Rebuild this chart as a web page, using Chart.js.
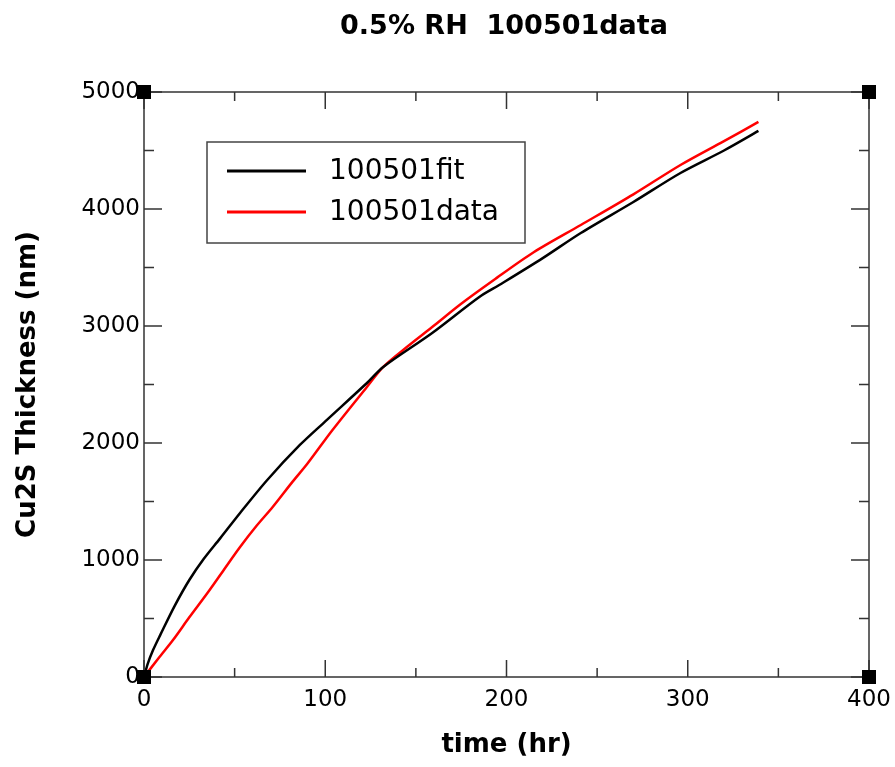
<!DOCTYPE html>
<html>
<head>
<meta charset="utf-8">
<script src="https://cdn.jsdelivr.net/npm/chart.js@4/dist/chart.umd.min.js"></script>
<style>
  body { margin: 0; background: #fff; }
  #wrap { width: 895px; height: 767px; }
</style>
</head>
<body>
<div id="wrap"><canvas id="chart" width="895" height="767"></canvas></div>
<script>
// values
var chartTitle = '0.5% RH  100501data';
var xTitle = 'time (hr)';
var yTitle = 'Cu2S Thickness (nm)';

var fitLabel = '100501fit';
var fitTime = [0, 2, 5, 9, 17, 25, 33, 42, 53, 68, 86, 100, 123, 132, 159, 185, 196, 220, 241, 270, 296, 320, 339];
var fitThickness = [0, 110, 230, 360, 610, 829, 1010, 1185, 1402, 1684, 1983, 2185, 2513, 2650, 2940, 3248, 3350, 3580, 3795, 4060, 4308, 4500, 4667];

var dataLabel = '100501data';
var dataTime = [0, 8, 16, 25, 35, 44, 53, 62, 71, 82, 90, 104, 123, 132, 145, 159, 175, 193, 215, 241, 270, 296, 320, 339];
var dataThickness = [0, 160, 316, 510, 718, 915, 1111, 1290, 1453, 1670, 1820, 2111, 2479, 2650, 2820, 2991, 3190, 3393, 3630, 3863, 4125, 4376, 4580, 4744];

var xTicks = [0, 100, 200, 300, 400];
var yTicks = [0, 1000, 2000, 3000, 4000, 5000];
var xMinorStep = 50;
var yMinorStep = 500;

function pairs(xs, ys) {
    var out = [];
    for (var i = 0; i < xs.length; i++) out.push({x: xs[i], y: ys[i]});
    return out;
}

// frame, inward ticks, corner squares, title and boxed legend
var decor = {
    id: 'decor',
    afterDatasetsDraw: function (chart) {
        var ctx = chart.ctx;
        var a = chart.chartArea;
        var xs = chart.scales.x, ys = chart.scales.y;
        ctx.save();
        ctx.strokeStyle = '#333';
        ctx.lineWidth = 1.5;
        ctx.strokeRect(a.left, a.top, a.right - a.left, a.bottom - a.top);

        ctx.beginPath();
        for (var v = xs.min; v <= xs.max; v += xMinorStep) {
            var px = xs.getPixelForValue(v);
            var len = (v % 100 === 0) ? 17 : 9;
            ctx.moveTo(px, a.bottom); ctx.lineTo(px, a.bottom - len);
            ctx.moveTo(px, a.top); ctx.lineTo(px, a.top + len);
        }
        for (var w = ys.min; w <= ys.max; w += yMinorStep) {
            var py = ys.getPixelForValue(w);
            var l2 = (w % 1000 === 0) ? 18 : 10;
            ctx.moveTo(a.left, py); ctx.lineTo(a.left + l2, py);
            ctx.moveTo(a.right, py); ctx.lineTo(a.right - l2, py);
        }
        ctx.stroke();

        ctx.fillStyle = '#000';
        [[a.left, a.top], [a.right, a.top], [a.left, a.bottom], [a.right, a.bottom]].forEach(function (c) {
            ctx.fillRect(c[0] - 7, c[1] - 7, 14, 14);
        });

        // title
        ctx.fillStyle = '#000';
        ctx.font = 'bold 27px "DejaVu Sans"';
        ctx.textAlign = 'center';
        ctx.textBaseline = 'middle';
        ctx.fillText(chartTitle, 504, 27);

        // legend
        ctx.strokeStyle = '#444';
        ctx.lineWidth = 1.5;
        ctx.strokeRect(207, 142, 318, 101);
        ctx.font = '28px "DejaVu Sans"';
        ctx.textAlign = 'left';
        chart.data.datasets.forEach(function (ds, i) {
            var ly = 171 + i * 41;
            ctx.strokeStyle = ds.borderColor;
            ctx.lineWidth = 3;
            ctx.beginPath();
            ctx.moveTo(227, ly); ctx.lineTo(306, ly);
            ctx.stroke();
            ctx.fillStyle = '#000';
            ctx.fillText(ds.label, 329, ly + 1);
        });
        ctx.restore();
    }
};

var ctx = document.getElementById('chart').getContext('2d');
var chart = new Chart(ctx, {
    type: 'line',
    data: {
        datasets: [
            {
                label: fitLabel,
                data: pairs(fitTime, fitThickness),
                borderColor: '#000000',
                borderWidth: 2.5,
                pointRadius: 0,
                tension: 0.3
            },
            {
                label: dataLabel,
                data: pairs(dataTime, dataThickness),
                borderColor: '#ff0000',
                borderWidth: 2.5,
                pointRadius: 0,
                tension: 0.3
            }
        ]
    },
    options: {
        responsive: false,
        animation: false,
        layout: { padding: { top: 92, right: 26, left: 0, bottom: 0 } },
        plugins: {
            legend: { display: false },
            title: { display: false },
            tooltip: { enabled: false }
        },
        scales: {
            x: {
                type: 'linear',
                min: 0,
                max: 400,
                afterBuildTicks: function (s) { s.ticks = xTicks.map(function (v) { return {value: v}; }); },
                afterFit: function (s) { s.height = 90; s.paddingLeft = 0; s.paddingRight = 0; },
                grid: { display: false, drawTicks: false },
                border: { display: false },
                ticks: {
                    color: '#000', padding: 9, font: { family: 'DejaVu Sans', size: 23 },
                    callback: function (v) { return String(v); }
                },
                title: {
                    display: true,
                    text: xTitle,
                    color: '#000',
                    font: { family: 'DejaVu Sans', size: 26, weight: 'bold' },
                    padding: { top: 0, bottom: 6 }
                }
            },
            y: {
                type: 'linear',
                min: 0,
                max: 5000,
                afterBuildTicks: function (s) { s.ticks = yTicks.map(function (v) { return {value: v}; }); },
                afterFit: function (s) { s.width = 144; s.paddingTop = 0; s.paddingBottom = 0; },
                grid: { display: false, drawTicks: false },
                border: { display: false },
                ticks: {
                    color: '#000', padding: 4, font: { family: 'DejaVu Sans', size: 23 },
                    callback: function (v) { return String(v); }
                },
                title: {
                    display: true,
                    text: yTitle,
                    color: '#000',
                    font: { family: 'DejaVu Sans', size: 26, weight: 'bold' },
                    padding: { top: 13, bottom: 0 }
                }
            }
        }
    },
    plugins: [decor]
});
</script>
</body>
</html>
